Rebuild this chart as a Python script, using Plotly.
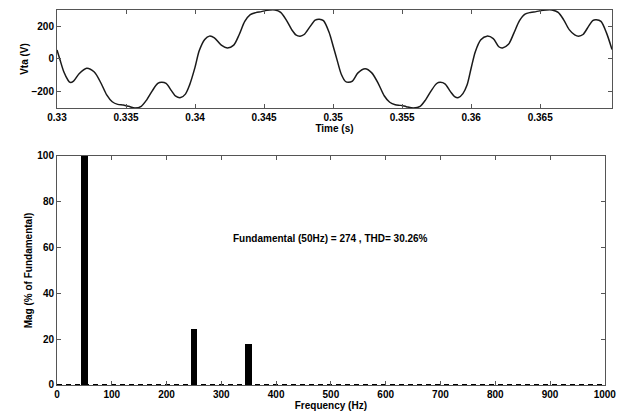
import plotly.graph_objects as go
from plotly.subplots import make_subplots

# Time-domain waveform
time_s = [0.3300, 0.3302, 0.3305, 0.3308, 0.33094, 0.3312, 0.3316, 0.33215, 0.3327, 0.3332,
          0.3336, 0.3340, 0.3344, 0.3348, 0.3352, 0.33565, 0.3361, 0.3365, 0.3369, 0.3373,
          0.33758, 0.3379, 0.3383, 0.3386, 0.33896, 0.3393, 0.3396, 0.3400, 0.3403, 0.3407,
          0.34104, 0.3414, 0.3419, 0.34234, 0.3428, 0.3432, 0.3436, 0.3440, 0.3444, 0.3448,
          0.3452, 0.3458, 0.3462, 0.3466, 0.3470, 0.3473, 0.34761, 0.3479, 0.3483, 0.3487,
          0.3490, 0.3493, 0.3497, 0.3500, 0.3503, 0.3506, 0.3509, 0.35111, 0.3514, 0.3518,
          0.35232, 0.3528, 0.3533, 0.3537, 0.3541, 0.3545, 0.3549, 0.3553, 0.35582, 0.3563,
          0.3567, 0.3571, 0.3575, 0.35775, 0.3581, 0.3585, 0.3588, 0.35908, 0.3594, 0.3597,
          0.3600, 0.3603, 0.3607, 0.36114, 0.3616, 0.3620, 0.36227, 0.3627, 0.3631, 0.3635,
          0.3639, 0.3643, 0.3647, 0.3652, 0.36585, 0.3663, 0.3667, 0.3671, 0.3675, 0.36778,
          0.3681, 0.3685, 0.3688, 0.36906, 0.3694, 0.3698, 0.3702]
vta_v = [55, 0, -80, -130, -143, -135, -90, -56, -80, -150,
         -220, -262, -278, -282, -290, -300, -290, -250, -195, -150,
         -143, -150, -195, -228, -236, -215, -160, -50, 50, 120,
         140, 130, 85, 68, 85, 150, 230, 272, 284, 290,
         298, 300, 285, 240, 180, 148, 140, 150, 195, 238,
         244, 235, 165, 80, -10, -95, -138, -143, -135, -85,
         -60, -85, -155, -225, -265, -280, -284, -292, -300, -290,
         -250, -195, -150, -143, -152, -200, -230, -236, -212, -160,
         -55, 45, 118, 140, 125, 75, 68, 90, 160, 235,
         275, 285, 290, 298, 300, 285, 240, 180, 148, 140,
         150, 200, 235, 240, 230, 160, 58]

# FFT spectrum
harm_freq = [50, 250, 350]
harm_mag = [100, 24.5, 17.8]
base_freq = [0, 1000]
base_mag = [0, 0]

time_ticks = [0.33, 0.335, 0.34, 0.345, 0.35, 0.355, 0.36, 0.365]
time_tick_text = ["0.33", "0.335", "0.34", "0.345", "0.35", "0.355", "0.36", "0.365"]
volt_ticks = [-200, 0, 200]
freq_ticks = list(range(0, 1001, 100))
mag_ticks = [0, 20, 40, 60, 80, 100]

fig = make_subplots(rows=2, cols=1)

fig.add_trace(go.Scatter(x=time_s, y=vta_v, mode="lines",
                         line=dict(color="#1a1a1a", width=1.5, shape="spline", smoothing=0.8),
                         showlegend=False), row=1, col=1)
fig.add_trace(go.Scatter(x=base_freq, y=base_mag, mode="lines",
                         line=dict(color="black", width=2, dash="5px,4px"),
                         showlegend=False), row=2, col=1)
fig.add_trace(go.Bar(x=harm_freq, y=harm_mag, width=12, marker=dict(color="black", line=dict(width=0)),
                     showlegend=False), row=2, col=1)

font_b = dict(family="Liberation Sans, Arial, sans-serif", size=10, color="black", weight="bold")
font_t = dict(family="Liberation Sans, Arial, sans-serif", size=10, color="black", weight="bold")
axis_common = dict(showgrid=False, zeroline=False, showline=True, mirror="ticks",
                   linecolor="#555555", linewidth=1, ticks="inside", ticklen=4,
                   tickcolor="#555555", tickfont=font_b, automargin=False)

fig.update_xaxes(**axis_common)
fig.update_yaxes(**axis_common)

fig.update_layout(
    width=625, height=417,
    margin=dict(l=57, r=13, t=10, b=32, autoexpand=False),
    paper_bgcolor="white", plot_bgcolor="white",
    font=font_b,
    bargap=0,
    xaxis=dict(domain=[0, 1], range=[0.33, 0.3702], tickvals=time_ticks, ticktext=time_tick_text,
               title=dict(text="Time (s)", font=font_t, standoff=0)),
    yaxis=dict(domain=[0.7387, 1], range=[-300, 300], tickvals=volt_ticks,
               title=dict(text="Vta (V)", font=font_t, standoff=0)),
    xaxis2=dict(domain=[0, 0.987], range=[0, 1000], tickvals=freq_ticks,
                title=dict(text="Frequency (Hz)", font=font_t, standoff=0)),
    yaxis2=dict(domain=[0, 0.6107], range=[0, 100], tickvals=mag_ticks,
                title=dict(text="Mag (% of Fundamental)", font=font_t, standoff=2)),
    annotations=[dict(x=500, y=64, xref="x2", yref="y2", showarrow=False,
                      text="Fundamental (50Hz) = 274 , THD= 30.26%",
                      font=dict(family="Liberation Sans, Arial, sans-serif", size=10, color="black", weight="bold"))]
)

fig.write_html("out.html", config={"displayModeBar": False},
               post_script="document.body.style.margin='0';document.body.style.overflow='hidden';")
